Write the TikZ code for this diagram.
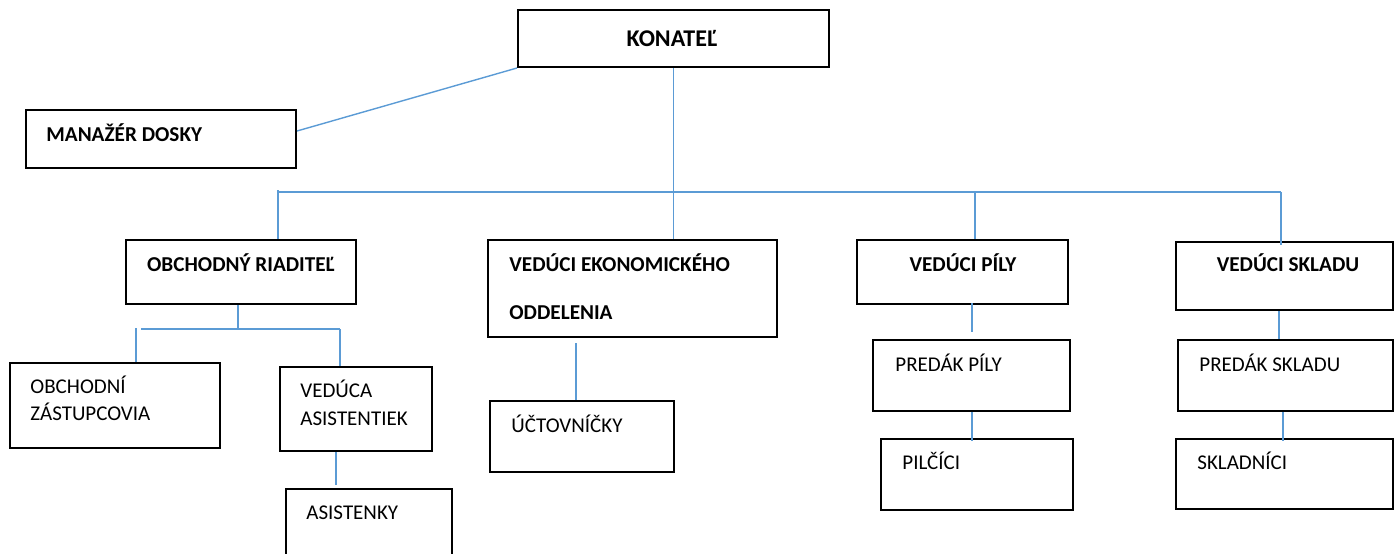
\documentclass[tikz,border=0pt]{standalone}
\usepackage{fontspec}
\setmainfont{Carlito}
\usetikzlibrary{fit}
\definecolor{linkblue}{RGB}{91,155,213}
\begin{document}
\begin{tikzpicture}[x=0.5pt,y=-0.5pt,
	box/.style={draw,line width=1pt,inner sep=0pt},
	link/.style={linkblue,line width=0.7pt},
	lbl/.style={anchor=base west,inner sep=0pt,font=\fontsize{10.5}{12}\selectfont},
	head/.style={lbl,font=\fontsize{10.6}{12}\selectfont\bfseries}]
	\clip (0,0) rectangle (1394,553);
	% top
	\node [box,fit={(518,10) (829,67)}] (konatel) {};
	\node [head,anchor=base,font=\fontsize{12}{14}\selectfont\bfseries] (tkonatel) at (672,46) {KONATEĽ};
	\node [box,fit={(26,110) (296,168)}] (manazer) {};
	\node [head] (tmanazer) at (46,141) {MANAŽÉR DOSKY};
	% second level
	\node [box,fit={(126,240) (356,304)}] (obch) {};
	\node [head,anchor=base] (tobch) at (241,271) {OBCHODNÝ RIADITEĽ};
	\node [box,fit={(488,240) (777,337)}] (ekon) {};
	\node [head] (tekon1) at (509,271) {VEDÚCI EKONOMICKÉHO};
	\node [head] (tekon2) at (509,319) {ODDELENIA};
	\node [box,fit={(857,240) (1068,304)}] (pily) {};
	\node [head,anchor=base] (tpily) at (963,271) {VEDÚCI PÍLY};
	\node [box,fit={(1176,242) (1393,310)}] (skladu) {};
	\node [head,anchor=base] (tskladu) at (1288,271) {VEDÚCI SKLADU};
	% third level
	\node [box,fit={(10,363) (220,448)}] (zast) {};
	\node [lbl] (tzast1) at (30,393) {OBCHODNÍ};
	\node [lbl] (tzast2) at (30,420) {ZÁSTUPCOVIA};
	\node [box,fit={(280,367) (432,451)}] (vedasist) {};
	\node [lbl] (tvedasist1) at (300,397) {VEDÚCA};
	\node [lbl] (tvedasist2) at (300,425) {ASISTENTIEK};
	\node [box,fit={(286,489) (452,600)}] (asist) {};
	\node [lbl] (tasist) at (306,519) {ASISTENKY};
	\node [box,fit={(490,401) (674,472)}] (uctov) {};
	\node [lbl] (tuctov) at (511,432) {ÚČTOVNÍČKY};
	\node [box,fit={(873,340) (1070,411)}] (predpily) {};
	\node [lbl] (tpredpily) at (895,371) {PREDÁK PÍLY};
	\node [box,fit={(881,439) (1073,510)}] (pilcici) {};
	\node [lbl] (tpilcici) at (902,469) {PILČÍCI};
	\node [box,fit={(1178,340) (1393,411)}] (predskl) {};
	\node [lbl] (tpredskl) at (1199,371) {PREDÁK SKLADU};
	\node [box,fit={(1176,439) (1393,509)}] (skladnici) {};
	\node [lbl] (tskladnici) at (1197,469) {SKLADNÍCI};
	% connectors
	\coordinate (busL) at (278,192);
	\coordinate (busR) at (1281,192);
	\coordinate (busP) at (975,192);
	\draw [link] (konatel.south west) -- ([yshift=4pt]manazer.east);
	\draw [link] (konatel.south) -- (konatel.south |- ekon.north);
	\draw [link] (busL) -- (busR);
	\draw [link] ([yshift=1pt]busL) -- (busL |- obch.north);
	\draw [link] (busP) -- (busP |- pily.north);
	\draw [link] (busR) -- ([yshift=-2pt]busR |- skladu.north);
	% under obchodny riaditel
	\coordinate (subL) at (141,329);
	\coordinate (subR) at (340,329);
	\coordinate (subT) at (136,328);
	\draw [link] (obch.south -| 238,0) -- (238,329);
	\draw [link] (subL) -- (subR);
	\draw [link] (subT) -- (subT |- zast.north);
	\draw [link] (subR) -- (subR |- vedasist.north);
	\coordinate (dA) at (336,0);
	\draw [link] (vedasist.south -| dA) -- ([yshift=1.5pt]asist.north -| dA);
	\coordinate (dU) at (576,0);
	\draw [link] ([yshift=-2.5pt]ekon.south -| dU) -- (uctov.north -| dU);
	\coordinate (dP) at (972,0);
	\draw [link] ([yshift=1pt]pily.south -| dP) -- ([yshift=3.5pt]predpily.north -| dP);
	\draw [link] (predpily.south -| dP) -- ([yshift=-1.5pt]pilcici.north -| dP);
	\draw [link] (skladu.south -| 1279,0) -- (predskl.north -| 1279,0);
	\draw [link] (predskl.south -| 1283,0) -- ([yshift=-1.5pt]skladnici.north -| 1283,0);
\end{tikzpicture}
\end{document}
